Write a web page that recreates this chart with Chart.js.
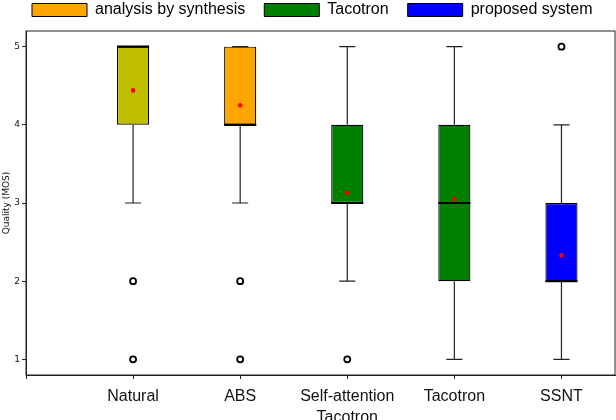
<!DOCTYPE html>
<html>
<head>
<meta charset="utf-8">
<script src="https://cdn.jsdelivr.net/npm/chart.js@4.4.1/dist/chart.umd.min.js"></script>
<style>
  html, body { margin: 0; padding: 0; background: #fff; }
  #wrap { width: 616px; height: 420px; }
</style>
</head>
<body>
<div id="wrap"><canvas id="mosChart"></canvas></div>
<script>
// values
const categories = ['Natural', 'ABS', 'Self-attention\nTacotron', 'Tacotron', 'SSNT'];
const whiskerLow = [3, 3, 2, 1, 1];
const q1 = [4, 4, 3, 2, 2];
const medians = [5, 4, 3, 3, 2];
const q3 = [5, 5, 4, 4, 3];
const whiskerHigh = [5, 5, 5, 5, 4];
const means = [4.44, 4.25, 3.13, 3.05, 2.33];
const outliers = [[2, 1], [2, 1], [1], [], [5]];
const boxColors = ['#bfbf00', '#ffa500', '#008000', '#008000', '#0000ff'];
const yTicks = [1, 2, 3, 4, 5];

const legendLabels = ['analysis by synthesis', 'Tacotron', 'proposed system'];
const legendColors = ['#ffa500', '#008000', '#0000ff'];

const boxData = categories.map((c, i) => ({ x: i + 1, y: [q1[i], q3[i]] }));
const meanData = means.map((m, i) => ({ x: i + 1, y: m }));
const outlierData = [];
outliers.forEach((list, i) => list.forEach(v => outlierData.push({ x: i + 1, y: v })));

// whiskers, caps and medians drawn right after the boxes
const whiskerPlugin = {
    id: 'whiskers',
    afterDatasetDraw(chart, args) {
        if (args.index !== 0) return;
        const ctx = chart.ctx;
        const xs = chart.scales.x;
        const ys = chart.scales.y;
        const bars = args.meta.data;
        ctx.save();
        categories.forEach((c, i) => {
            const px = xs.getPixelForValue(i + 1);
            const half = bars[i].width / 2;
            ctx.strokeStyle = '#222';
            ctx.lineWidth = 1.2;
            ctx.beginPath();
            ctx.moveTo(px, ys.getPixelForValue(q3[i]));
            ctx.lineTo(px, ys.getPixelForValue(whiskerHigh[i]));
            ctx.moveTo(px, ys.getPixelForValue(q1[i]));
            ctx.lineTo(px, ys.getPixelForValue(whiskerLow[i]));
            ctx.moveTo(px - half / 2, ys.getPixelForValue(whiskerHigh[i]));
            ctx.lineTo(px + half / 2, ys.getPixelForValue(whiskerHigh[i]));
            ctx.moveTo(px - half / 2, ys.getPixelForValue(whiskerLow[i]));
            ctx.lineTo(px + half / 2, ys.getPixelForValue(whiskerLow[i]));
            ctx.stroke();
            ctx.strokeStyle = '#000';
            ctx.lineWidth = 2.2;
            ctx.beginPath();
            ctx.moveTo(px - half, ys.getPixelForValue(medians[i]));
            ctx.lineTo(px + half, ys.getPixelForValue(medians[i]));
            ctx.stroke();
        });
        ctx.restore();
    }
};

const framePlugin = {
    id: 'frame',
    afterDraw(chart) {
        const a = chart.chartArea;
        const ctx = chart.ctx;
        ctx.save();
        ctx.strokeStyle = '#222';
        ctx.lineWidth = 1;
        ctx.strokeRect(a.left, a.top, a.right - a.left, a.bottom - a.top);
        ctx.restore();
    }
};

// keep the legend band short so the plot starts where it does in the picture
const legendHeight = {
    id: 'legendHeight',
    afterInit(chart) {
        const lg = chart.legend;
        const fit = lg.fit;
        lg.fit = function () { fit.call(this); this.height = 48; };
    }
};

new Chart(document.getElementById('mosChart'), {
    type: 'bar',
    data: {
        datasets: [{
            type: 'bar',
            data: boxData,
            backgroundColor: boxColors,
            borderColor: '#000',
            borderWidth: 1.2,
            borderSkipped: false,
            categoryPercentage: 1,
            barPercentage: 0.3,
            order: 3
        }, {
            type: 'scatter',
            data: outlierData,
            pointRadius: 3,
            pointBorderWidth: 1.8,
            pointBorderColor: '#000',
            pointBackgroundColor: 'rgba(0,0,0,0)',
            order: 2
        }, {
            type: 'scatter',
            data: meanData,
            pointRadius: 2.3,
            pointBorderWidth: 0,
            pointBackgroundColor: '#ff0000',
            order: 1
        }]
    },
    options: {
        responsive: true,
        maintainAspectRatio: false,
        animation: false,
        layout: { autoPadding: false, padding: { top: -17, left: 13, right: 1, bottom: 0 } },
        plugins: {
            tooltip: { enabled: false },
            legend: {
                position: 'top',
                align: 'start',
                onClick: null,
                labels: {
                    boxWidth: 55,
                    boxHeight: 13,
                    padding: 19,
                    color: '#111',
                    font: { family: 'Liberation Sans', size: 16 },
                    generateLabels: () => legendLabels.map((t, i) => ({
                        text: t,
                        fillStyle: legendColors[i],
                        strokeStyle: '#000',
                        lineWidth: 1,
                        hidden: false
                    }))
                }
            }
        },
        scales: {
            x: {
                type: 'linear',
                min: 0,
                max: 5.5,
                offset: false,
                afterBuildTicks: s => { s.ticks = [0, 1, 2, 3, 4, 5].map(v => ({ value: v })); },
                afterFit: s => { s.height = 45; },
                grid: { display: true, offset: false, drawOnChartArea: false, drawTicks: true, tickLength: 4, tickColor: '#222' },
                border: { display: true, color: '#222' },
                ticks: {
                    autoSkip: false,
                    maxRotation: 0,
                    padding: 7,
                    color: '#111',
                    font: { family: 'Liberation Sans', size: 16, lineHeight: 1.3 },
                    callback: v => (v >= 1 && v <= categories.length ? categories[v - 1].split('\n') : '')
                }
            },
            y: {
                min: 0.8,
                max: 5.2,
                afterBuildTicks: s => { s.ticks = yTicks.map(v => ({ value: v })); },
                afterFit: s => { s.width = 13; },
                grid: { display: true, drawOnChartArea: false, drawTicks: true, tickLength: 4, tickColor: '#222' },
                border: { display: true, color: '#222' },
                ticks: {
                    padding: 2,
                    color: '#111',
                    font: { family: 'DejaVu Sans', size: 9 }
                },
                title: {
                    display: true,
                    text: 'Quality (MOS)',
                    color: '#111',
                    padding: { top: -12, bottom: 0 },
                    font: { family: 'DejaVu Sans', size: 9 }
                }
            }
        }
    },
    plugins: [whiskerPlugin, framePlugin, legendHeight]
});
</script>
</body>
</html>
